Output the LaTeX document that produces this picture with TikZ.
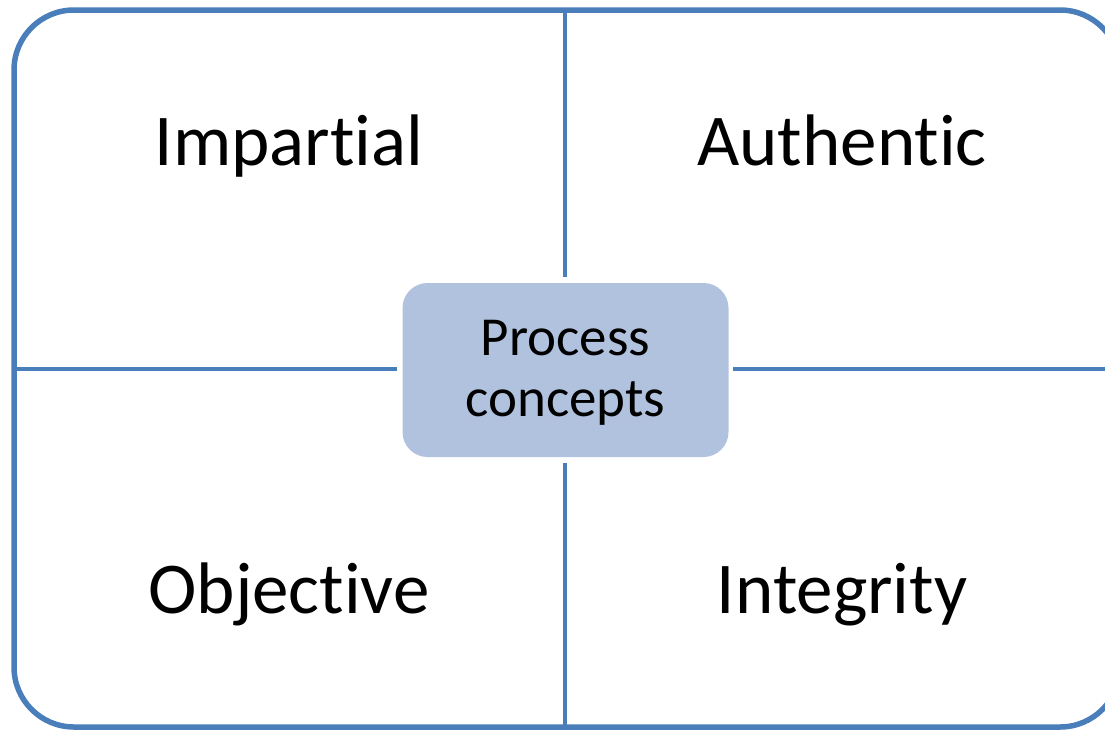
\documentclass[tikz,border=0pt]{standalone}
\usepackage{fontspec}
\setmainfont{Carlito}[RawFeature={-liga;-clig}]
\definecolor{frameblue}{HTML}{4A7EBB}
\definecolor{boxfill}{HTML}{B1C2DE}
\begin{document}
\begin{tikzpicture}[x=1pt,y=-1pt,
  frame/.style={draw=frameblue,line width=5.5pt,rounded corners=60pt},
  divider/.style={draw=frameblue,line width=4.5pt},
  bigword/.style={font=\fontsize{73}{80}\selectfont,anchor=base,inner sep=0pt},
  boxword/.style={font=\fontsize{55}{63}\selectfont,anchor=base,inner sep=0pt},
  centerbox/.style={fill=boxfill,draw=none,rounded corners=25pt,minimum width=326pt,minimum height=174pt,inner sep=0pt}]
\useasboundingbox (0,0) rectangle (1105,729);
\begin{scope}
\clip (0,0) rectangle (1105,729);
\path[frame] (14,10) rectangle (1120,727);
\coordinate (top) at (565,10);
\coordinate (bot) at (565,729);
\coordinate (lft) at (14,369);
\coordinate (rgt) at (1105,369);
\node[centerbox] (c) at (565.5,370) {};
\coordinate (ct) at (565,277);
\coordinate (cb) at (565,463);
\coordinate (cl) at (397,369);
\coordinate (cr) at (733,369);
\path[divider] (top) -- (ct);
\path[divider] (cb) -- (bot);
\path[divider] (lft) -- (cl);
\path[divider] (cr) -- (rgt);
\end{scope}
\node[boxword] (c1) at (565.5,355) {Process};
\node[boxword] (c2) at (565.5,416) {concepts};
\node[bigword] (imp) at (289,165) {Impartial};
\node[bigword] (aut) at (842,165) {Authentic};
\node[bigword] (obj) at (289,613) {Objective};
\node[bigword] (int) at (842,613) {Integrity};
\end{tikzpicture}
\end{document}
